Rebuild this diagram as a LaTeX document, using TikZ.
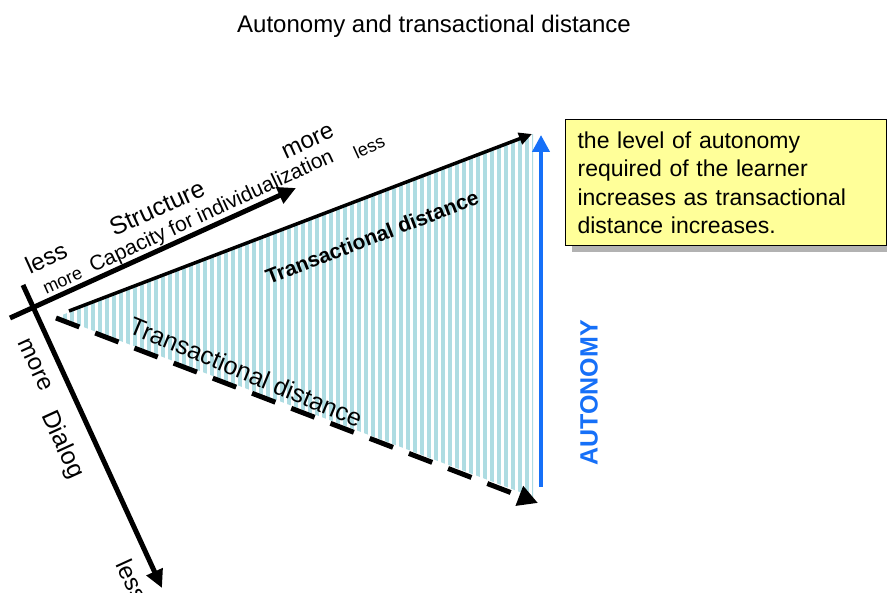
\documentclass[tikz,border=0pt]{standalone}
\usepackage{fontspec}
\setmainfont{Liberation Sans}
\usetikzlibrary{arrows.meta}
\definecolor{stripeblue}{RGB}{174,220,226}
\definecolor{autblue}{RGB}{22,112,248}
\definecolor{notey}{RGB}{255,255,153}
\definecolor{shadowgray}{RGB}{178,178,178}
\newcommand{\fsz}[2]{\fontsize{#1}{#2}\selectfont}
\begin{document}
\begin{tikzpicture}[x=1pt,y=-1pt,
  lbl/.style={inner sep=0pt},
  axis/.style={line width=5pt,-{Triangle[length=18pt,width=17pt]}},
  tdsolid/.style={line width=3.5pt,-{Triangle[length=13pt,width=12pt]}},
  tddash/.style={line width=5pt,dash pattern=on 25pt off 17pt,-{Triangle[length=20pt,width=20pt]}},
  autarrow/.style={autblue,line width=4pt,-{Triangle[length=17pt,width=17pt]}},
  notebox/.style={draw=black,fill=notey,line width=1.2pt,anchor=north west,
    minimum width=321pt,minimum height=126pt,text width=297pt,align=left,
    inner xsep=12pt,inner ysep=0pt,font=\fsz{23}{28.5}}]
\useasboundingbox (0,0) rectangle (887,593);
\fill[white] (0,0) rectangle (887,593);

% title
\node[lbl,anchor=base,font=\fsz{24}{28}] (title) at (434,33) {Autonomy and transactional distance};

% striped triangle
\begin{scope}
  \clip (57,317) -- (533,134) -- (533,497) -- cycle;
  \foreach \x in {58,65,...,540} \draw[stripeblue,line width=3.5pt] (\x,100) -- (\x,520);
\end{scope}

% coordinates
\coordinate (sA) at (10,318);
\coordinate (sB) at (296,188);
\coordinate (dA) at (23,285);
\coordinate (dB) at (162,588);
\coordinate (tL) at (69,311);
\coordinate (tR) at (532,134);
\coordinate (bL) at (56,318);
\coordinate (bR) at (538,503);
\coordinate (aB) at (541,487);
\coordinate (aT) at (541,135);

% axes
\draw[axis] (sA) -- (sB);
\draw[axis] (dA) -- (dB);
\draw[tdsolid] (tL) -- (tR);
\draw[tddash] (bL) -- (bR);
\draw[autarrow] (aB) -- (aT);

% structure labels
\node[lbl,rotate=24.5,font=\fsz{24}{28}] (sless) at (46,258) {less};
\node[lbl,rotate=24.5,font=\fsz{25}{29}] (struct) at (157,208) {Structure};
\node[lbl,rotate=24.5,font=\fsz{24}{28}] (smore) at (308,142) {more};
\node[lbl,rotate=24.5,font=\fsz{18}{22}] (cmore) at (63,282) {more};
\node[lbl,rotate=24.8,font=\fsz{21}{25}] (cap) at (212,212) {Capacity for individualization};
\node[lbl,rotate=24.5,font=\fsz{18}{22}] (cless) at (369,147) {less};

% transactional distance labels
\node[lbl,rotate=21,font=\fsz{21}{25}\bfseries] (tdtop) at (372,237) {Transactional distance};
\node[lbl,rotate=-22.5,font=\fsz{25}{29}] (tdbot) at (246,372) {Transactional distance};

% dialog labels
\node[lbl,rotate=-65.4,font=\fsz{24}{28}] (dmore) at (35,365) {more};
\node[lbl,rotate=-65.4,font=\fsz{25}{29}] (dial) at (62,445) {Dialog};
\node[lbl,rotate=-65.4,font=\fsz{24}{28}] (dless) at (132,580) {less};

% autonomy
\node[lbl,rotate=90,text=autblue,font=\fsz{25}{29}\bfseries] (aut) at (589,393) {AUTONOMY};

% note box
\fill[shadowgray] (572,126) rectangle (893,252);
\node[notebox] (note) at (565,119) {the level of autonomy\\required of the learner\\increases as transactional\\distance increases.};
\end{tikzpicture}
\end{document}
